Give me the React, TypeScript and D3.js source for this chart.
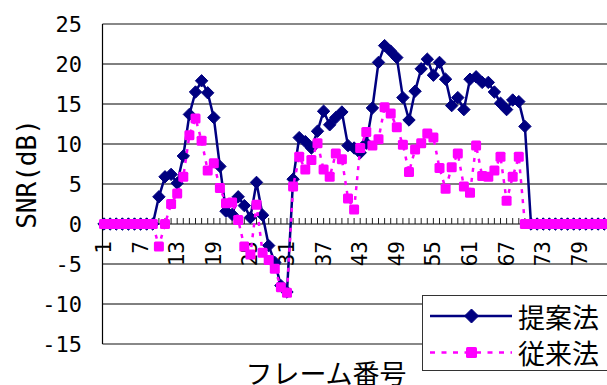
import React from "react";
import * as d3 from "d3";

// Frame indices along the x axis
const frames: number[] = d3.range(1, 85);
const frameTickLabels: number[] = [1, 7, 13, 19, 25, 31, 37, 43, 49, 55, 61, 67, 73, 79];
const snrTicks: number[] = [-15, -10, -5, 0, 5, 10, 15, 20, 25];

// SNR (dB) per frame, proposed method
const proposedSnr: number[] = [
  0, 0, 0, 0, 0, 0, 0, 0, 0,
  3.4, 5.9, 6.2, 5.1, 8.5, 13.7, 16.5, 17.9, 16.4, 13.3, 7.2,
  1.6, 1.2, 3.4, 2.3, 0.8, 5.2, 1.1, -2.7, -4.8, -7.7,
  -8.5, 5.6, 10.8, 10.3, 9.5, 11.6, 14.1, 12.4, 13.3, 14.0,
  9.8, 9.5, 8.9, 10.1, 14.5, 20.2, 22.3, 21.6, 20.8, 15.8,
  13.0, 16.6, 19.4, 20.6, 18.6, 20.2, 18.1, 14.8, 15.8, 14.3,
  18.1, 18.4, 17.7, 17.7, 16.5, 15.1, 14.3, 15.5, 15.3, 12.2,
  0, 0, 0, 0, 0, 0, 0, 0, 0, 0, 0, 0, 0, 0,
];

// SNR (dB) per frame, conventional method
const conventionalSnr: number[] = [
  0, 0, 0, 0, 0, 0, 0, 0, 0,
  -2.8, 0, 2.5, 3.8, 5.9, 11.1, 13.2, 10.4, 6.7, 7.6, 4.5,
  2.6, 2.7, 0.5, -2.8, -3.8, 2.4, -3.6, -4.5, -5.6, -7.9,
  -8.6, 4.7, 8.4, 6.8, 8.0, 10.1, 6.8, 5.9, 8.8, 8.1,
  3.2, 1.8, 9.5, 11.5, 9.8, 10.6, 14.6, 13.8, 12.1, 9.9,
  6.5, 9.3, 10.1, 11.3, 10.8, 7.0, 4.4, 7.1, 8.8, 4.7,
  3.9, 9.8, 6.0, 5.9, 6.7, 8.4, 2.9, 5.9, 8.4, 0,
  0, 0, 0, 0, 0, 0, 0, 0, 0, 0, 0, 0, 0, 0,
];

const seriesNames = ["提案法", "従来法"];

const W = 607;
const H = 385;
const plotLeft = 102.5;
const plotTop = 24;
const plotBottom = 344;
const plotRight = 612;

const NAVY = "#000080";
const MAGENTA = "#FF00FF";
const monoFont = "'DejaVu Sans Mono', monospace";
const jpFont = "'Noto Sans CJK JP', sans-serif";

function Diamond({ x, y, r }: { x: number; y: number; r: number }) {
  return (
    <path
      d={`M${x},${y - r}L${x + r},${y}L${x},${y + r}L${x - r},${y}Z`}
      fill={NAVY}
      stroke={NAVY}
      strokeWidth={1}
      strokeLinejoin="round"
    />
  );
}

function Square({ x, y, s }: { x: number; y: number; s: number }) {
  return <rect x={x - s / 2} y={y - s / 2} width={s} height={s} rx={1.5} fill={MAGENTA} />;
}

export default function App() {
  const x = d3.scalePoint<number>().domain(frames).range([104, 610.3]).padding(0);
  const y = d3.scaleLinear().domain([-15, 25]).range([plotBottom, plotTop]);

  const line = d3
    .line<number>()
    .x((_, i) => x(frames[i]) as number)
    .y((d) => y(d));

  const y0 = y(0);

  return (
    <svg
      width={W}
      height={H}
      viewBox={`0 0 ${W} ${H}`}
      style={{ position: "absolute", left: 0, top: 0, background: "#fff" }}
    >
      {/* horizontal gridlines */}
      {snrTicks
        .filter((t) => t !== 0 && t !== 25 && t !== -15)
        .map((t) => (
          <line key={t} x1={plotLeft} x2={plotRight} y1={y(t)} y2={y(t)} stroke="#000" strokeWidth={1} />
        ))}
      {/* plot frame top / bottom */}
      <line x1={plotLeft} x2={plotRight} y1={y(25)} y2={y(25)} stroke="#888" strokeWidth={2} />
      <line x1={plotLeft} x2={plotRight} y1={y(-15)} y2={y(-15)} stroke="#888" strokeWidth={2} />

      {/* value axis */}
      <line x1={plotLeft} x2={plotLeft} y1={plotTop} y2={plotBottom} stroke="#000" strokeWidth={1.2} />
      {snrTicks.map((t) => (
        <text
          key={t}
          x={82}
          y={y(t)}
          textAnchor="end"
          dominantBaseline="central"
          fontFamily={monoFont}
          fontSize={22}
          fill="#000"
        >
          {t}
        </text>
      ))}

      {/* category axis at 0 dB */}
      <line x1={plotLeft} x2={plotRight} y1={y0} y2={y0} stroke="#000" strokeWidth={1.2} />
      {frames.map((f) => (
        <line
          key={f}
          x1={x(f) as number}
          x2={x(f) as number}
          y1={y0}
          y2={y0 - 6}
          stroke="#222"
          strokeWidth={1}
        />
      ))}
      {frameTickLabels.map((f) => (
        <text
          key={f}
          transform={`translate(${x(f)},${y0 + 17}) rotate(-90)`}
          textAnchor="end"
          dominantBaseline="central"
          fontFamily={monoFont}
          fontSize={21}
          fill="#000"
        >
          {f}
        </text>
      ))}

      {/* proposed method */}
      <path d={line(proposedSnr) ?? ""} fill="none" stroke={NAVY} strokeWidth={2.5} strokeLinejoin="round" />
      {proposedSnr.map((v, i) => (
        <Diamond key={i} x={x(frames[i]) as number} y={y(v)} r={6.2} />
      ))}

      {/* conventional method */}
      <path
        d={line(conventionalSnr) ?? ""}
        fill="none"
        stroke={MAGENTA}
        strokeWidth={2.5}
        strokeDasharray="4,6"
      />
      {conventionalSnr.map((v, i) => (
        <Square key={i} x={x(frames[i]) as number} y={y(v)} s={10} />
      ))}

      {/* axis titles */}
      <text
        transform={`translate(27,174) rotate(-90)`}
        textAnchor="middle"
        dominantBaseline="central"
        fontFamily={monoFont}
        fontSize={26}
        fill="#000"
      >
        SNR(dB)
      </text>
      <text x={326} y={384} textAnchor="middle" fontFamily={jpFont} fontSize={27} fill="#000">
        フレーム番号
      </text>

      {/* legend */}
      <g>
        <rect x={422.5} y={295.5} width={200} height={75} fill="#fff" stroke="#333" strokeWidth={1} />
        <line x1={430} x2={512} y1={316} y2={316} stroke={NAVY} strokeWidth={2.5} />
        <Diamond x={471.5} y={316} r={7} />
        <text x={518} y={316} dominantBaseline="central" fontFamily={jpFont} fontSize={27} fill="#000">
          {seriesNames[0]}
        </text>
        <line
          x1={430}
          x2={512}
          y1={352.5}
          y2={352.5}
          stroke={MAGENTA}
          strokeWidth={2.5}
          strokeDasharray="5,6.5"
        />
        <Square x={471.5} y={352.5} s={11} />
        <text x={518} y={352.5} dominantBaseline="central" fontFamily={jpFont} fontSize={27} fill="#000">
          {seriesNames[1]}
        </text>
      </g>
    </svg>
  );
}
